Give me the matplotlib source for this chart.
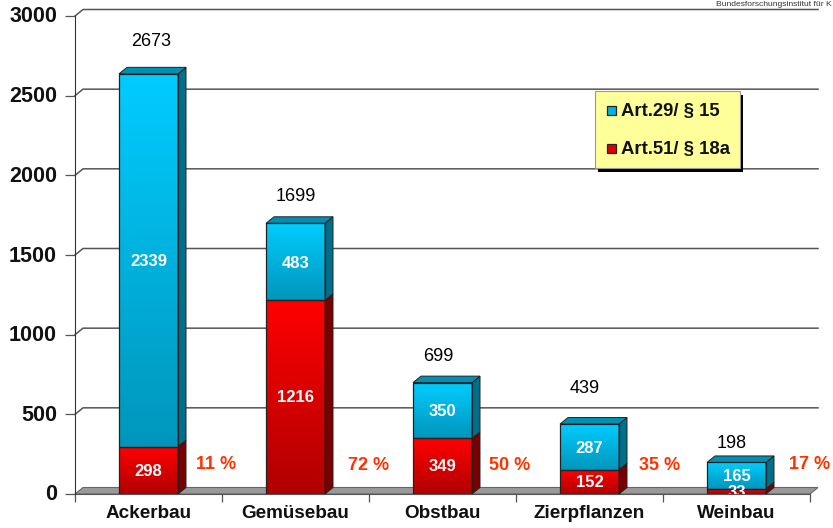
import numpy as np
import matplotlib
matplotlib.use("Agg")
import matplotlib.pyplot as plt
from matplotlib.colors import LinearSegmentedColormap
from matplotlib.patches import Polygon, Rectangle
from matplotlib.transforms import ScaledTranslation

plt.rcParams['font.family'] = ['Liberation Sans', 'DejaVu Sans']

categories = ['Ackerbau', 'Gemüsebau', 'Obstbau', 'Zierpflanzen', 'Weinbau']
art51 = [298, 1216, 349, 152, 33]
art29 = [2339, 483, 350, 287, 165]
totals = [2673, 1699, 699, 439, 198]
percent = ['11 %', '72 %', '50 %', '35 %', '17 %']

W, H = 833, 528
fig = plt.figure(figsize=(W / 100, H / 100), dpi=100)
ax = fig.add_axes([75 / W, 1 - 494 / H, 735 / W, 478 / H])
ax.patch.set_visible(False)

bar_w = 59 / 147
dx = 8 / 147        # depth of the fake 3d, x in category units
dy = 6.5 * 3000 / 478  # same for y in value units

blue = LinearSegmentedColormap.from_list('b', ['#00ccff', '#0096bb'])
red = LinearSegmentedColormap.from_list('r', ['#ff0000', '#b00000'])
grad = np.linspace(0, 1, 128).reshape(-1, 1)


def box(x, y0, y1, cmap, side, top):
    left, right = x - bar_w / 2, x + bar_w / 2
    ax.imshow(grad, cmap=cmap, aspect='auto', extent=[left, right, y0, y1],
              origin='upper', zorder=4)
    ax.add_patch(Rectangle((left, y0), bar_w, y1 - y0, fc='none', ec='#222222', lw=0.9, zorder=5))
    ax.add_patch(Polygon([(right, y0), (right + dx, y0 + dy), (right + dx, y1 + dy), (right, y1)],
                         fc=side, ec='#222222', lw=0.7, zorder=4, clip_on=False))
    if top:
        ax.add_patch(Polygon([(left, y1), (left + dx, y1 + dy), (right + dx, y1 + dy), (right, y1)],
                             fc=top, ec='#222222', lw=0.7, zorder=4, clip_on=False))


# walls, floor, grid
for v in range(500, 3001, 500):
    ax.plot([-0.5, -0.5 + dx, 4.5 + dx], [v, v + dy, v + dy], color='#555555', lw=1.1,
            clip_on=False, zorder=1)
ax.add_patch(Polygon([(-0.5, 0), (-0.5 + dx, dy), (4.5 + dx, dy), (4.5, 0)],
                     fc='#999999', ec='#666666', lw=0.8, zorder=2, clip_on=False))

xs = np.arange(len(categories))
for x, a, b in zip(xs, art51, art29):
    box(x, 0, a, red, '#7a0000', None)
    box(x, a, a + b, blue, '#006f8c', '#0090b4')

for x, a, b in zip(xs, art51, art29):
    ax.text(x, a / 2 - 5, str(a), color='white', weight='bold', fontsize=12,
            ha='center', va='center', zorder=6, clip_on=True)
    ax.text(x, a + b / 2 - 8, str(b), color='white', weight='bold', fontsize=12,
            ha='center', va='center', zorder=6)

total_x = [0.02, 0.0, -0.03, -0.03, -0.03]
total_y = [2837, 1865, 866, 665, 320]
for x, ox, y, t in zip(xs, total_x, total_y, totals):
    ax.text(x + ox, y, str(t), color='black', fontsize=13, ha='center', va='center', zorder=6)

pct_x = [0.46, 0.50, 0.46, 0.48, 0.50]
pct_y = [183, 180, 180, 180, 183]
for x, ox, y, p in zip(xs, pct_x, pct_y, percent):
    ax.text(x + ox, y, p, color='#ff3300', weight='bold', fontsize=13, ha='center', va='center',
            zorder=6, clip_on=False)

ax.set_xlim(-0.5, 4.5)
ax.set_ylim(0, 3000)
ax.set_yticks(range(0, 3001, 500))
ax.set_xticks(np.arange(-0.5, 5, 1), minor=False)
ax.set_xticklabels([])
ax.set_xticks(xs, labels=categories, minor=True)
ax.tick_params(axis='x', which='minor', length=0, pad=8, labelsize=13.6)
ax.tick_params(axis='x', which='major', length=6, width=0.9, color='#555555')
ax.tick_params(axis='y', length=7, width=0.9, color='#555555', labelsize=15.5, pad=6)
for lab in ax.get_yticklabels() + ax.get_xticklabels(minor=True):
    lab.set_fontweight('bold')
    lab.set_color('#111111')
for lab in ax.get_yticklabels():
    lab.set_transform(lab.get_transform() + ScaledTranslation(0, 1.5 / 100, fig.dpi_scale_trans))
for s in ['top', 'right']:
    ax.spines[s].set_visible(False)
ax.spines['left'].set_color('#333333')
ax.spines['left'].set_zorder(3)
ax.spines['bottom'].set_color('#555555')

# legend box
ax2 = fig.add_axes([0, 0, 1, 1])
ax2.set_xlim(0, W)
ax2.set_ylim(H, 0)
ax2.axis('off')
ax2.add_patch(Rectangle((598, 95), 145, 76.5, fc='black', ec='none'))
ax2.add_patch(Rectangle((595, 91), 145, 77, fc='#ffff99', ec='#999999', lw=0.8))
ax2.add_patch(Rectangle((607, 106), 9, 9, fc='#00b4e0', ec='#222222', lw=0.9))
ax2.add_patch(Rectangle((607, 144), 9, 9, fc='#dd0000', ec='#222222', lw=0.9))
ax2.text(621, 112, 'Art.29/ § 15', weight='bold', fontsize=13.3, color='#111111', va='center')
ax2.text(621, 150, 'Art.51/ § 18a', weight='bold', fontsize=13.3, color='#111111', va='center')
ax2.text(716, 5, 'Bundesforschungsinstitut für K', fontsize=6.1, color='#333333', va='center')

fig.savefig('out.png', dpi=100)
